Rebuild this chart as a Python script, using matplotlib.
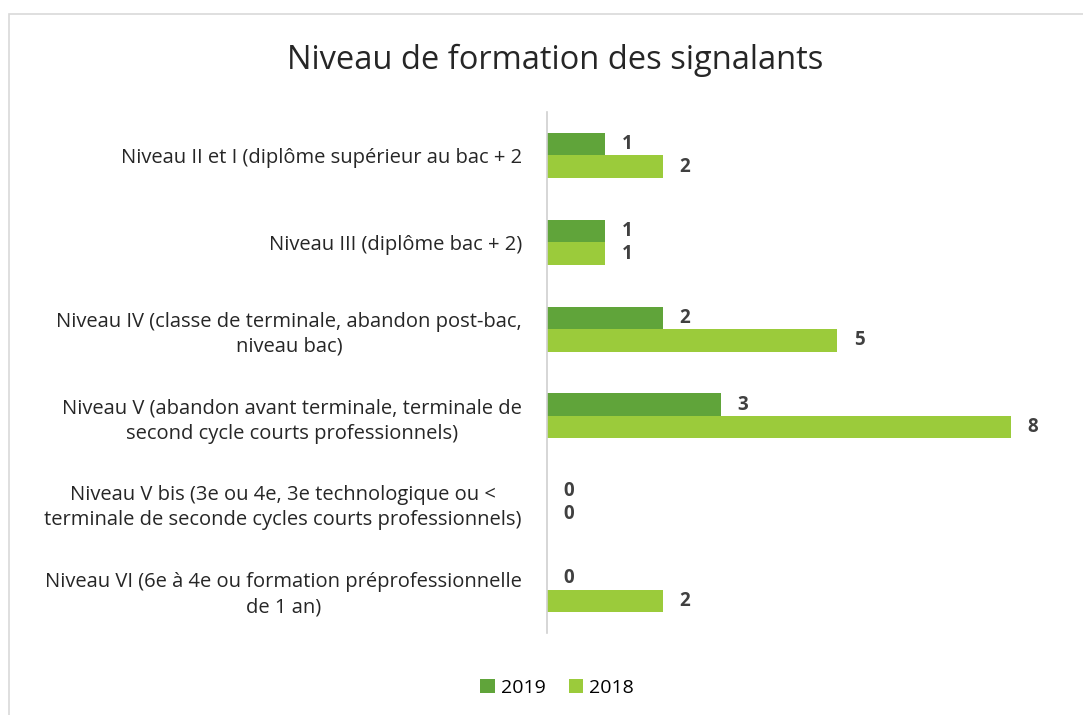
import matplotlib.pyplot as plt
import numpy as np
from matplotlib.patches import Rectangle

categories = [
    "Niveau II et I (diplôme supérieur au bac + 2",
    "Niveau III (diplôme bac + 2)",
    "Niveau IV (classe de terminale, abandon post-bac,\nniveau bac)",
    "Niveau V (abandon avant terminale, terminale de\nsecond cycle courts professionnels)",
    "Niveau V bis (3e ou 4e, 3e technologique ou <\nterminale de seconde cycles courts professionnels)",
    "Niveau VI (6e à 4e ou formation préprofessionnelle\nde 1 an)",
]
values_2019 = [1, 1, 2, 3, 0, 0]
values_2018 = [2, 1, 5, 8, 0, 2]

c2019 = '#60A43A'
c2018 = '#9BCB3B'

plt.rcParams['font.family'] = ['Open Sans', 'DejaVu Sans']

fig = plt.figure(figsize=(10.83, 7.15), dpi=100)
ax = fig.add_axes([547 / 1083, 1 - 633 / 715, 522 / 1083, 521 / 715])

y = np.arange(len(categories))
h = 0.26
bars19 = ax.barh(y - h / 2, values_2019, height=h, color=c2019, label='2019')
bars18 = ax.barh(y + h / 2, values_2018, height=h, color=c2018, label='2018')

for bars, vals in [(bars19, values_2019), (bars18, values_2018)]:
    for b, v in zip(bars, vals):
        ax.text(v + 0.38, b.get_y() + b.get_height() / 2, str(v),
                ha='center', va='center', fontsize=13.5, fontweight='bold', color='#404040')

ax.set_xlim(0, 9)
ax.set_ylim(len(categories) - 0.5, -0.5)
ax.set_xticks([])
ax.set_yticks(y)
ax.set_yticklabels(categories, fontsize=14.5, color='#262626', multialignment='center',
                   linespacing=1.35)
ax.tick_params(axis='y', length=0, pad=18)
for s in ['top', 'right', 'bottom']:
    ax.spines[s].set_visible(False)
ax.spines['left'].set_color('#D0D0D0')
ax.spines['left'].set_linewidth(1.2)

fig.text(555 / 1083, 1 - 60 / 715, 'Niveau de formation des signalants',
         ha='center', va='center', fontsize=23.5, color='#262626')

fig.legend(handles=[bars19, bars18], labels=['2019', '2018'], loc='center',
           bbox_to_anchor=(557 / 1083, 1 - 688 / 715), ncol=2, frameon=False,
           fontsize=14, handlelength=0.75, handleheight=0.75, handletextpad=0.3,
           columnspacing=1.2)

# light frame like the original chart area
fig.patches.append(Rectangle((9 / 1083, -0.01), 1.02, 1 - 14 / 715 + 0.01,
                             transform=fig.transFigure, fill=False,
                             edgecolor='#D9D9D9', linewidth=1.2))

fig.savefig('out.png', dpi=100)
